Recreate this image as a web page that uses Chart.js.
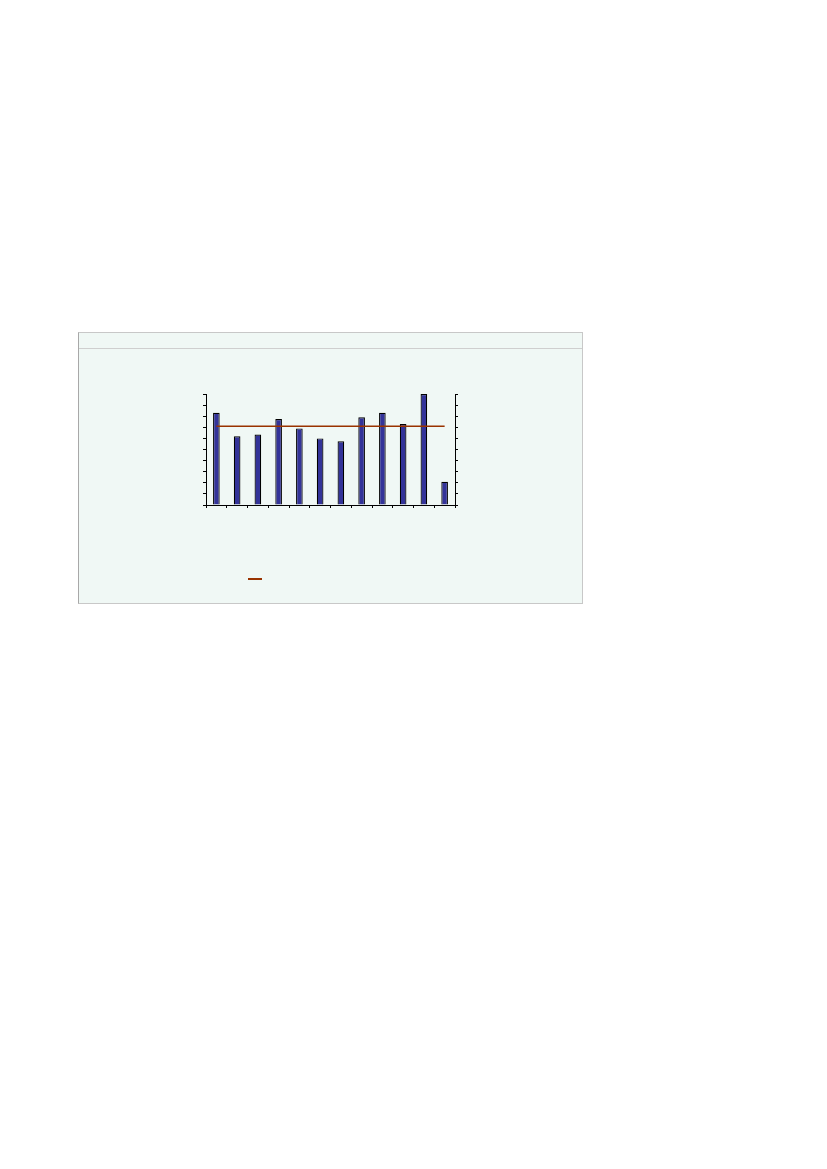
<!DOCTYPE html>
<html>
<head>
<meta charset="utf-8">
<script src="https://cdn.jsdelivr.net/npm/chart.js@4"></script>
<style>
  html, body { margin: 0; padding: 0; background: #ffffff; }
  #panel {
    position: absolute; left: 78px; top: 332px; width: 503px; height: 270px;
    background: #f0f8f5; border: 1px solid #c8c8c8; border-left-color: #a8a8a8;
  }
  #hdr { position: absolute; left: 0; top: 15px; width: 100%; height: 0; border-top: 1px solid #cfcfcf; }
  #canvasWrap { position: absolute; left: 0; top: 0; width: 503px; height: 270px; }
  canvas { display: block; }
</style>
</head>
<body>
<div id="panel">
  <div id="hdr"></div>
  <div id="canvasWrap"><canvas id="c" width="503" height="270" style="width:503px;height:270px"></canvas></div>
</div>
<script>
const categories = ["1","2","3","4","5","6","7","8","9","10","11","12"];
const barValues = [8.3, 6.2, 6.35, 7.75, 6.9, 6.0, 5.75, 7.9, 8.3, 7.3, 10.0, 2.1];
const lineValues = [7.1, 7.1, 7.1, 7.1, 7.1, 7.1, 7.1, 7.1, 7.1, 7.1, 7.1, 7.1];
const yMin = 0, yMax = 10, yStep = 1;

const legendLine = {
  id: 'legendLine',
  afterDraw(chart) {
    const ctx = chart.ctx;
    const a = chart.chartArea;
    ctx.save();
    ctx.strokeStyle = '#993300';
    ctx.lineWidth = 2;
    ctx.beginPath();
    ctx.moveTo(a.left + 42, a.bottom + 74);
    ctx.lineTo(a.left + 56, a.bottom + 74);
    ctx.stroke();
    ctx.restore();
  }
};

new Chart(document.getElementById('c'), {
  data: {
    labels: categories,
    datasets: [
      {
        type: 'line', data: lineValues, borderColor: '#993300', borderWidth: 1.5,
        pointRadius: 0, fill: false, yAxisID: 'y', order: 0
      },
      {
        type: 'bar', data: barValues, backgroundColor: '#333399', borderColor: '#000000',
        borderWidth: 1.2, barPercentage: 0.32, categoryPercentage: 1.0, yAxisID: 'y', order: 1
      }
    ]
  },
  options: {
    responsive: false, animation: false, devicePixelRatio: 1,
    maintainAspectRatio: false,
    layout: { padding: { left: 124, right: 124, top: 61, bottom: 95 } },
    plugins: { legend: { display: false }, tooltip: { enabled: false } },
    scales: {
      x: {
        offset: true,
        grid: { offset: true, drawOnChartArea: false, tickLength: 3, color: '#000000', tickColor: '#000000' },
        border: { color: '#000000', width: 1 },
        ticks: { display: false }
      },
      y: {
        position: 'left', min: yMin, max: yMax,
        grid: { drawOnChartArea: false, tickLength: 3, color: '#000000', tickColor: '#000000' },
        border: { color: '#000000', width: 1 },
        ticks: { display: false, stepSize: yStep }
      },
      y2: {
        position: 'right', min: yMin, max: yMax,
        grid: { drawOnChartArea: false, tickLength: 3, color: '#000000', tickColor: '#000000' },
        border: { color: '#000000', width: 1 },
        ticks: { display: false, stepSize: yStep }
      }
    }
  },
  plugins: [legendLine]
});
</script>
</body>
</html>
